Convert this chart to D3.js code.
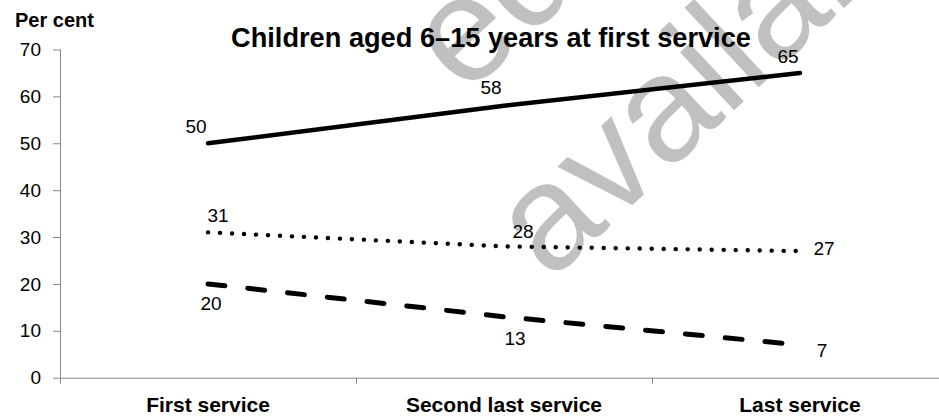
<!DOCTYPE html>
<html>
<head>
<meta charset="utf-8">
<script src="https://cdn.jsdelivr.net/npm/d3@7"></script>
<style>
  html, body { margin: 0; padding: 0; background: #fff; }
  svg { display: block; font-family: "Liberation Sans", Arial, sans-serif; }
</style>
</head>
<body>
<svg id="chart" width="939" height="417"></svg>
<script>
// Share of children aged 6–15 years at first service, by service
const categories = ["First service", "Second last service", "Last service"];
const solidValues = [50, 58, 65];
const dottedValues = [31, 28, 27];
const dashedValues = [20, 13, 7];
const yTicks = [0, 10, 20, 30, 40, 50, 60, 70];
const titleText = "Children  aged 6\u201315 years at first service";
const yAxisLabel = "Per cent";

// Line styles and value-label placement for each series
const seriesStyle = [
  { values: solidValues,  width: 4.5, dash: null,       cap: "round",
    labelOffsets: [[-12, -10], [-13, -12], [-12, -10]] },
  { values: dottedValues, width: 4.4, dash: "0.1 11.9", cap: "round",
    labelOffsets: [[10, -10], [19, -8], [24, 4]] },
  { values: dashedValues, width: 5,   dash: "17 23",    cap: "round",
    labelOffsets: [[3, 26], [11, 28], [22, 12]] }
];

const W = 939, H = 417;
const svg = d3.select("#chart");
const axisColor = "#878787";

// Scales
const x = d3.scaleBand().domain(categories).range([60, 948]).paddingInner(0).paddingOuter(0);
const xc = d => x(d) + x.bandwidth() / 2;
const y = d3.scaleLinear().domain([0, 70]).range([377.7, 49.5]);

// Background watermark
const wm = svg.append("g").attr("fill", "#c0c0c0")
  .style("font-family", "'Liberation Sans', Arial, sans-serif")
  .style("font-size", "150px");
wm.append("text").attr("transform", "translate(465,97) rotate(-43)").text("edition");
wm.append("text").attr("transform", "translate(550,282) rotate(-43)").text("available");

// Y axis
const yAxis = d3.axisLeft(y).tickValues(yTicks).tickSize(7).tickPadding(12).tickSizeOuter(0);
const gy = svg.append("g").attr("transform", "translate(60,0)").call(yAxis);
gy.select(".domain").attr("stroke", axisColor).attr("d", `M0.5,${y(70)}V${y(0)}`);
gy.selectAll(".tick line").attr("stroke", axisColor);
gy.selectAll(".tick text").attr("fill", "#000").style("font-size", "19px")
  .style("font-family", "'Liberation Sans', Arial, sans-serif");

// X axis: ticks at category boundaries
const boundaries = [60, x(categories[1]), x(categories[2])];
const gx = svg.append("g").attr("transform", `translate(0,${y(0)})`);
gx.append("line").attr("x1", 60).attr("x2", W).attr("y1", 0.5).attr("y2", 0.5)
  .attr("stroke", axisColor);
gx.selectAll("line.tk").data(boundaries).join("line").attr("class", "tk")
  .attr("x1", d => Math.round(d) + 0.5).attr("x2", d => Math.round(d) + 0.5)
  .attr("y1", 0).attr("y2", 6).attr("stroke", axisColor);
gx.selectAll("text").data(categories).join("text")
  .attr("x", d => xc(d)).attr("y", 34)
  .attr("text-anchor", "middle")
  .style("font-size", "21px").style("font-weight", "bold").text(d => d);

// Series lines
const line = d3.line().x((d, i) => xc(categories[i])).y(d => y(d));
seriesStyle.forEach(s => {
  svg.append("path").datum(s.values)
    .attr("d", line)
    .attr("fill", "none")
    .attr("stroke", "#000")
    .attr("stroke-width", s.width)
    .attr("stroke-linecap", s.cap)
    .attr("stroke-dasharray", s.dash);
});

// Value labels
seriesStyle.forEach(s => {
  svg.append("g").selectAll("text").data(s.values).join("text")
    .attr("x", (d, i) => xc(categories[i]) + s.labelOffsets[i][0])
    .attr("y", (d, i) => y(d) + s.labelOffsets[i][1])
    .attr("text-anchor", "middle")
    .style("font-size", "19px")
    .text(d => d);
});

// Title and axis caption
svg.append("text").attr("x", 491).attr("y", 47).attr("text-anchor", "middle")
  .style("font-size", "27.2px").style("font-weight", "bold").text(titleText);
svg.append("text").attr("x", 15).attr("y", 27)
  .style("font-size", "20px").style("font-weight", "bold").text(yAxisLabel);
</script>
</body>
</html>
